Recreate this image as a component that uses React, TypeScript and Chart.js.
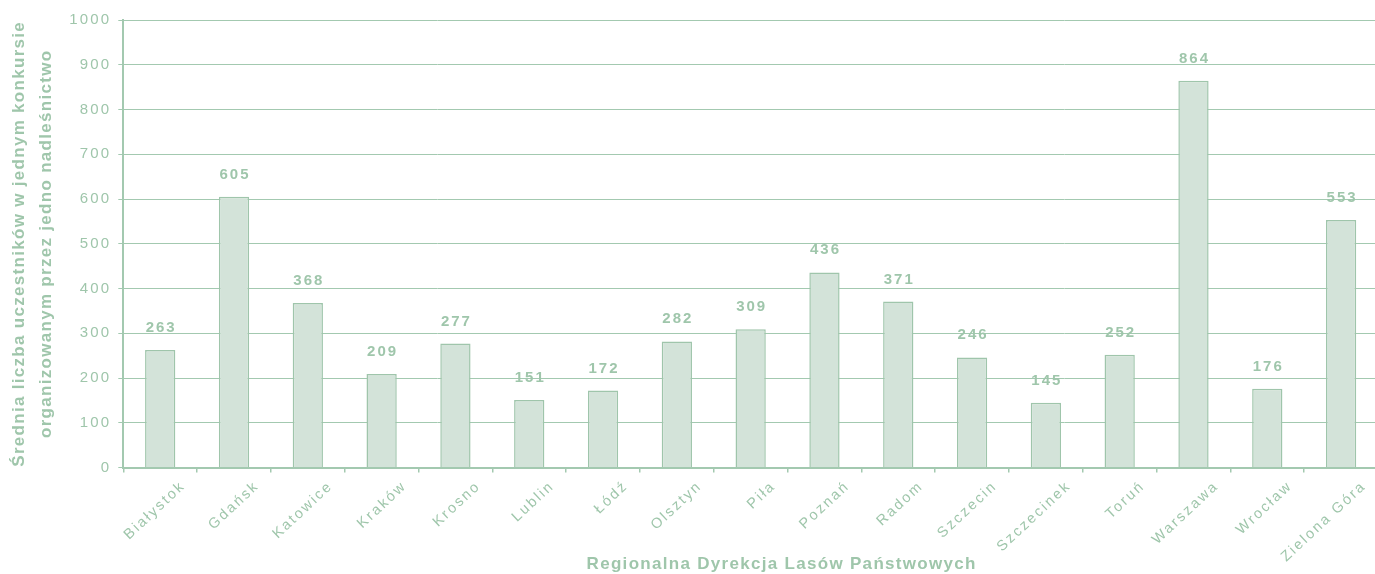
import React, { useEffect, useRef } from "react";
import { Chart, registerables } from "chart.js";

Chart.register(...registerables);

const categories = [
  "Białystok", "Gdańsk", "Katowice", "Kraków", "Krosno", "Lublin", "Łódź",
  "Olsztyn", "Piła", "Poznań", "Radom", "Szczecin", "Szczecinek", "Toruń",
  "Warszawa", "Wrocław", "Zielona Góra",
];
const values = [263, 605, 368, 209, 277, 151, 172, 282, 309, 436, 371, 246, 145, 252, 864, 176, 553];
const yTitleLines = [
  "Średnia liczba uczestników w jednym konkursie",
  "organizowanym przez jedno nadleśnictwo",
];
const xTitle = "Regionalna Dyrekcja Lasów Państwowych";

const TEXT = "#9fc6ab";
const LINE = "#a3c9b0";
const FILL = "#d3e3d9";
const BORDER = "#9fc5ab";
const FONT = "'Liberation Sans', Arial, sans-serif";

const spacingPlugin = {
  id: "spacing",
  beforeDraw(chart: any) {
    // axis titles (drawn with the grid layer)
    chart.ctx.letterSpacing = "1.3px";
  },
  afterDatasetsDraw(chart: any) {
    const ctx = chart.ctx;
    const meta = chart.getDatasetMeta(0);
    ctx.save();
    ctx.letterSpacing = "2px";
    ctx.font = `bold 15px ${FONT}`;
    ctx.fillStyle = TEXT;
    ctx.textAlign = "center";
    ctx.textBaseline = "alphabetic";
    meta.data.forEach((bar: any, i: number) => {
      ctx.fillText(String(values[i]), bar.x + 1, bar.y - 18);
    });
    ctx.restore();
    // tick labels (drawn after datasets, z = 1)
    ctx.letterSpacing = "2.2px";
  },
  afterDraw(chart: any) {
    const ctx = chart.ctx;
    const area = chart.chartArea;
    ctx.save();
    ctx.letterSpacing = "1.3px";
    ctx.font = `bold 17px ${FONT}`;
    ctx.fillStyle = TEXT;
    ctx.textAlign = "center";
    ctx.textBaseline = "alphabetic";
    ctx.fillText(xTitle, (area.left + area.right) / 2 + 31, chart.height - 5.5);
    ctx.restore();
  },
};

export default function App() {
  const ref = useRef<HTMLCanvasElement>(null);
  useEffect(() => {
    if (!ref.current) return;
    const chart = new Chart(ref.current, {
      type: "bar",
      data: {
        labels: categories,
        datasets: [
          {
            data: values,
            backgroundColor: FILL,
            borderColor: BORDER,
            borderWidth: 1.5,
            categoryPercentage: 1,
            barPercentage: 0.41,
          },
        ],
      },
      options: {
        animation: false,
        responsive: false,
        layout: { padding: { top: 20, right: 0, left: 0, bottom: 0 } },
        plugins: { legend: { display: false }, tooltip: { enabled: false } },
        scales: {
          x: {
            offset: true,
            grid: {
              display: true,
              offset: true,
              drawOnChartArea: false,
              drawTicks: true,
              tickLength: 5,
              color: LINE,
              lineWidth: 1.5,
            },
            border: { display: true, color: LINE, width: 2 },
            ticks: {
              z: 1,
              color: TEXT,
              font: { family: FONT, size: 14.5 },
              minRotation: 43,
              maxRotation: 43,
              autoSkip: false,
              labelOffset: 23,
              padding: 5,
            },
            title: { display: false },
            afterFit(scale: any) {
              scale.height = 106.4;
            },
          },
          y: {
            min: 0,
            max: 1000,
            ticks: {
              stepSize: 100,
              z: 1,
              color: TEXT,
              font: { family: FONT, size: 15 },
              padding: 7,
              callback: (v: any) => String(v),
            },
            grid: {
              color: LINE,
              lineWidth: 1,
              tickLength: 5,
            },
            border: { display: true, color: LINE, width: 2 },
            title: {
              display: true,
              text: yTitleLines,
              color: TEXT,
              font: { family: FONT, size: 17, weight: "bold", lineHeight: 1.6 },
              padding: { top: 6, bottom: 0 },
            },
            afterFit(scale: any) {
              scale.width = 123.3;
            },
          },
        },
      },
      plugins: [spacingPlugin],
    });
    return () => chart.destroy();
  }, []);
  return (
    <div style={{ position: "absolute", left: 0, top: 0, width: 1375, height: 574, overflow: "hidden", background: "#fff" }}>
      <canvas ref={ref} width={1378} height={574} style={{ display: "block" }} />
    </div>
  );
}
